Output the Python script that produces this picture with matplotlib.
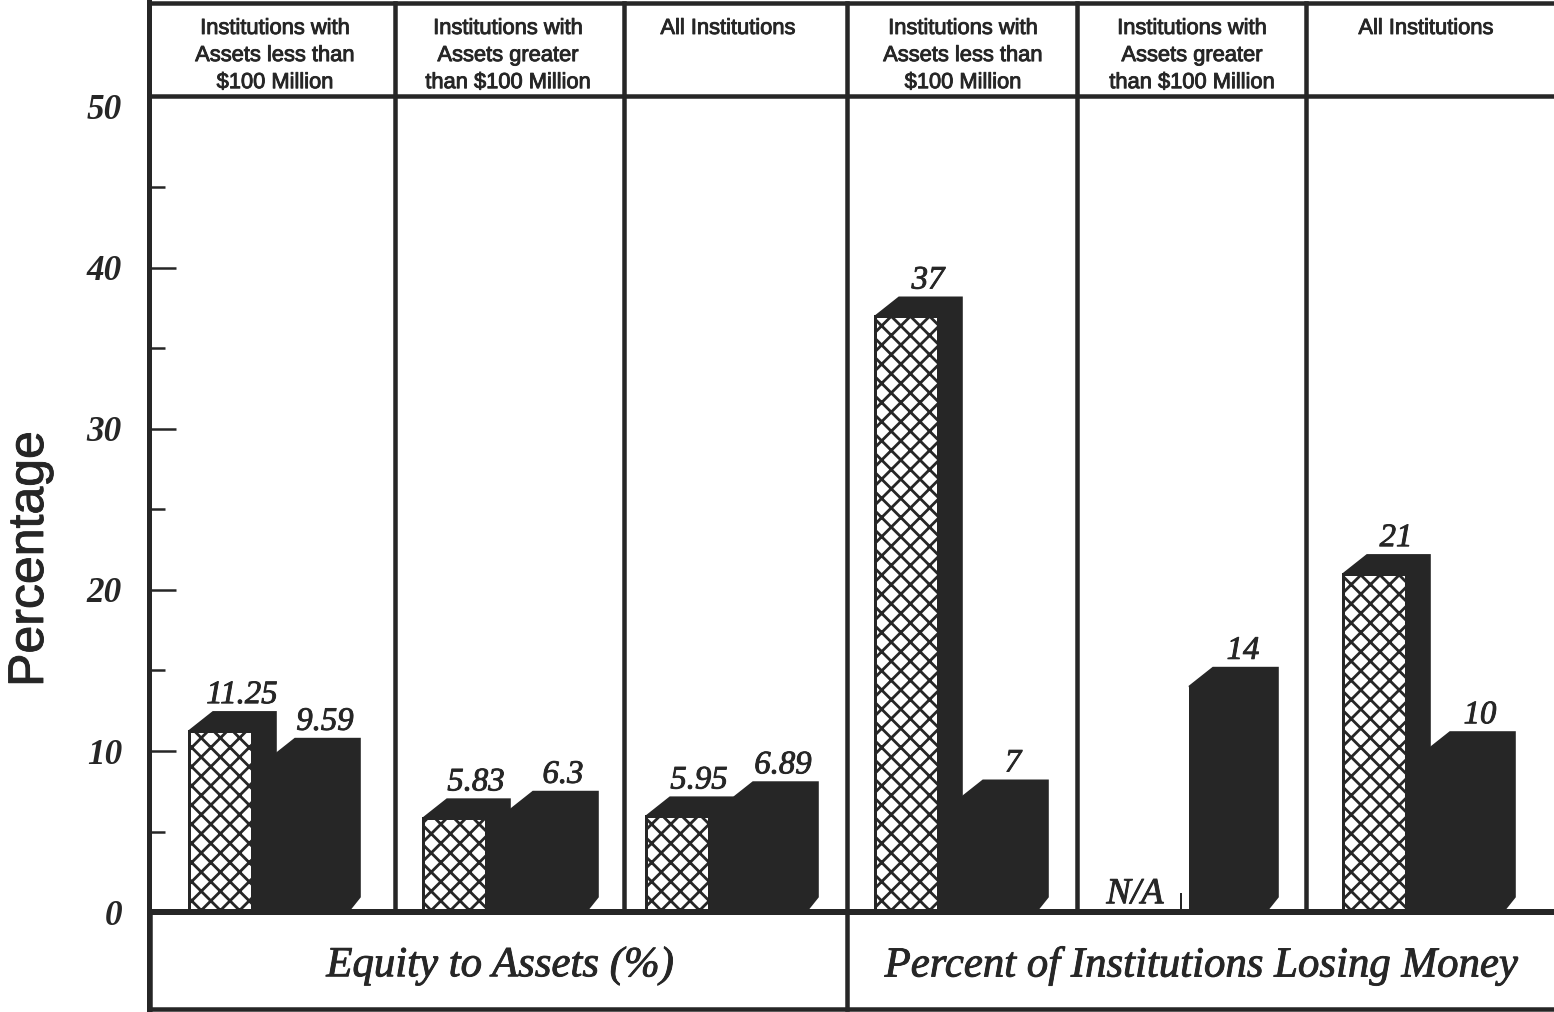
import matplotlib
matplotlib.use("Agg")
import matplotlib.pyplot as plt
import matplotlib.patheffects as pe
from matplotlib.patches import Polygon

# values
columns = ["Institutions with\nAssets less than\n$100 Million",
           "Institutions with\nAssets greater\nthan $100 Million",
           "All Institutions",
           "Institutions with\nAssets less than\n$100 Million",
           "Institutions with\nAssets greater\nthan $100 Million",
           "All Institutions"]
hatched = [11.25, 5.83, 5.95, 37, None, 21]
solid = [9.59, 6.3, 6.89, 7, 14, 10]
sections = ["Equity to Assets (%)", "Percent of Institutions Losing Money"]
missing = "N/A"
ylabel = "Percentage"
major = [0, 10, 20, 30, 40, 50]
minor = [5, 15, 25, 35, 45]

# layout, in pixels of the 1554x1012 picture
DPI = 115
W, H = 1554, 1012
BASE = 912
UNIT = 16.1
DARK = "#262626"
SERIF = "Liberation Serif"
SANS = "Liberation Sans"
hatch_left = [189, 423, 646, 875, 1110, 1343]
solid_right = [336, 574, 794, 1024, 1254, 1491]
dividers = [395, 624, 847, 1077, 1306]
centers = [275, 508, 728, 963, 1192, 1426]
bar_w = 65
hatch_w = 63
dx = 24
dy = 19 / UNIT


def pt(px):
    return px * 72 / DPI


heavy = [pe.withStroke(linewidth=pt(0.9), foreground=DARK)]

plt.rcParams["hatch.linewidth"] = pt(2.8)
plt.rcParams["hatch.color"] = DARK

fig = plt.figure(figsize=(W / DPI, H / DPI), dpi=DPI)
ax = fig.add_axes([149 / W, 0, (W - 149) / W, 1])
ax.set_xlim(149, W)
ax.set_ylim((BASE - H) / UNIT, BASE / UNIT)

for s in ["top", "right", "bottom"]:
    ax.spines[s].set_visible(False)
ax.spines["left"].set_linewidth(pt(5))
ax.spines["left"].set_color(DARK)
ax.set_xticks([])
ax.set_yticks(major)
ax.set_yticks(minor, minor=True)
ax.tick_params(axis="y", which="major", direction="in", length=pt(27), width=pt(2.5),
               color=DARK, pad=pt(27))
ax.tick_params(axis="y", which="minor", direction="in", length=pt(16), width=pt(2.5),
               color=DARK)
ax.yaxis.get_major_ticks()[-1].tick1line.set_visible(False)
for lab in ax.get_yticklabels():
    lab.set(family=SERIF, weight="bold", style="italic", fontsize=22, color=DARK)

# frame lines
top = BASE / UNIT - 3 / UNIT
head = (BASE - 96) / UNIT
bottom = (BASE - 1009) / UNIT
lw = pt(4.5)
ax.plot([149, W], [top, top], color=DARK, lw=lw, zorder=5)
ax.plot([149, W], [head, head], color=DARK, lw=lw, zorder=5)
ax.plot([149, W], [0, 0], color=DARK, lw=pt(6), zorder=5)
ax.plot([149, W], [bottom, bottom], color=DARK, lw=lw, zorder=5)
ax.plot([150, 150], [bottom, 0], color=DARK, lw=lw, zorder=5)
for x in dividers:
    ax.plot([x, x], [0, top], color=DARK, lw=lw, zorder=5)
ax.plot([847, 847], [bottom, 0], color=DARK, lw=lw, zorder=5)

# solid bars first, the hatched ones overlap them
for right, v in zip(solid_right, solid):
    left = right - bar_w
    ax.bar(left, v, bar_w, align="edge", color=DARK, zorder=2)
    ax.add_patch(Polygon([(left, v), (left + dx, v + dy), (right + dx, v + dy),
                          (right + dx, 15 / UNIT), (right + 12, 0), (right, 0), (right, v)],
                         closed=True, color=DARK, zorder=2))
    ax.text(right - 11, v + dy + 17 / UNIT, str(v), family=SERIF, style="italic", fontsize=20.5,
            color=DARK, ha="center", va="center", zorder=6, path_effects=heavy)

for left, v in zip(hatch_left, hatched):
    if v is None:
        continue
    right = left + hatch_w
    ax.add_patch(Polygon([(left, v), (left + dx, v + dy), (right + dx, v + dy),
                          (right + dx, 0), (right, 0), (right, v)],
                         closed=True, color=DARK, zorder=3))
    ax.bar(left, v, hatch_w, align="edge", facecolor="white", edgecolor=DARK, hatch="xx",
           linewidth=pt(3), zorder=4)
    ax.text(left + 53, v + dy + 17 / UNIT, str(v), family=SERIF, style="italic", fontsize=20.5,
            color=DARK, ha="center", va="center", zorder=6, path_effects=heavy)

# the missing bar
ax.text(1135, (BASE - 894) / UNIT, missing, family=SERIF, style="italic", fontsize=23,
        color=DARK, ha="center", va="center", zorder=6, path_effects=heavy)
ax.plot([1181, 1181], [0, 18 / UNIT], color=DARK, lw=pt(2), zorder=5)

for x, label in zip(centers, columns):
    ax.text(x, (BASE - 18) / UNIT, label, family=SANS, fontsize=13.7, color=DARK,
            ha="center", va="top", linespacing=1.38, zorder=6, path_effects=heavy)

ax.text(500, (BASE - 966) / UNIT, sections[0], family=SERIF, style="italic", fontsize=26.8,
        color=DARK, ha="center", va="center", zorder=6, path_effects=heavy)
ax.text(1201, (BASE - 966) / UNIT, sections[1], family=SERIF, style="italic", fontsize=26.8,
        color=DARK, ha="center", va="center", zorder=6, path_effects=heavy)

fig.text(30 / W, 1 - 559 / H, ylabel, family=SANS, fontsize=31.3, color=DARK, rotation=90,
         ha="center", va="center", path_effects=heavy)

fig.savefig("out.png", dpi=DPI)
